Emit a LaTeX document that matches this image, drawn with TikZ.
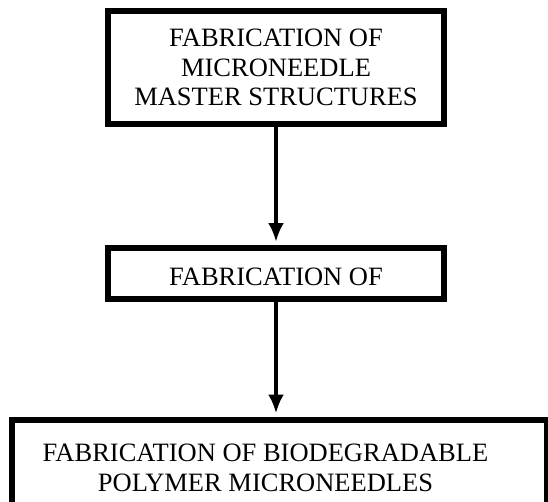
\documentclass[tikz,border=0pt]{standalone}
\usepackage{fontspec}
\setmainfont{Liberation Serif}
\usetikzlibrary{arrows.meta,positioning}

\begin{document}
\begin{tikzpicture}[x=1pt, y=-1pt,
  stagebox/.style={draw, rectangle, line width=6pt, align=center, inner sep=0pt, font=\fontsize{26.5}{29.5}\selectfont},
  stageflow/.style={->, line width=4.5pt, shorten >=3pt, >={Latex[length=19pt,width=16pt]}}]
\useasboundingbox (0,0) rectangle (548,501);
\clip (0,0) rectangle (548,501);
\node[stagebox, minimum width=336pt, minimum height=113pt] (master) at (276,67.5) {FABRICATION OF\\MICRONEEDLE\\MASTER STRUCTURES};
\node[stagebox, minimum width=336pt, minimum height=51pt, text height=23pt, text depth=0pt] (mould) at (276,273.5) {FABRICATION OF};
\node[stagebox, minimum width=535pt, anchor=north, inner ysep=24.5pt] (bio) at (279.5,416.5) {FABRICATION OF BIODEGRADABLE\hspace*{28pt}\mbox{}\\POLYMER MICRONEEDLES\hspace*{28pt}\mbox{}};
%==========
\draw[stageflow] (master) -- (mould);
\draw[stageflow] (mould) -- (mould.south |- bio.north);
\end{tikzpicture}
\end{document}
